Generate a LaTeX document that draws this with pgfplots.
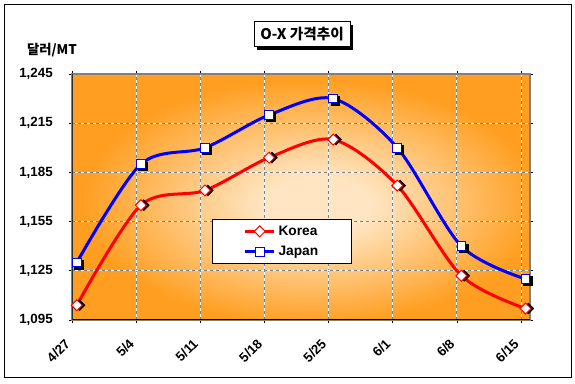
\documentclass[border=0pt]{standalone}
\usepackage{fontspec}
\setmainfont{Liberation Sans}
\newfontfamily\kr{Noto Sans CJK KR}
\usepackage{pgfplots}
\pgfplotsset{compat=1.18}
\definecolor{peach}{RGB}{255,229,194}
\definecolor{xlorange}{RGB}{255,158,32}
\definecolor{gridgray}{RGB}{128,128,128}
\pgfdeclareradialshading{excelcenter}{\pgfpoint{2bp}{-2bp}}{color(0bp)=(peach); color(6bp)=(peach); color(25bp)=(xlorange); color(50bp)=(xlorange)}
\begin{document}
\begin{tikzpicture}[x=0.75pt,y=0.75pt]
% outer frame
\draw[black, line width=1.1pt] (4.5,6.5) rectangle (571.5,379.5);
% title box with shadow
\fill[black] (257,334.3) rectangle (353,359.3);
\draw[black, line width=0.75pt, fill=white] (254,337.3) rectangle (350,362.3);
\node[font=\kr\bfseries\fontsize{11}{13}\selectfont, inner sep=0pt] at (302,349.8) {O-X 가격추이};
% unit label
\node[font=\kr\bfseries\fontsize{10}{12}\selectfont, inner sep=0pt] at (52,334) {달러/MT};
\begin{axis}[
  at={(54.225pt,48pt)}, anchor=south west,
  scale only axis,
  width=343.3pt, height=184.5pt,
  xmin=0, xmax=7.14,
  ymin=1095, ymax=1245,
  xtick={0,1,2,3,4,5,6,7},
  xticklabels={4/27,5/4,5/11,5/18,5/25,6/1,6/8,6/15},
  ytick={1095,1125,1155,1185,1215,1245},
  yticklabels={{1,095},{1,125},{1,155},{1,185},{1,215},{1,245}},
  /pgf/number format/assume math mode=true,
  tick label style={font=\bfseries\fontsize{10}{12}\selectfont},
  yticklabel style={anchor=east, inner sep=0pt, xshift=-12pt},
  xticklabel style={inner sep=0pt, xshift=-3.5pt, yshift=-13.5pt, rotate=45, anchor=east},
  tick align=outside,
  major tick length=2.5pt,
  tick style={black, line width=0.6pt},
  grid=major,
  major grid style={white, line width=0.75pt, postaction={draw=gridgray, line width=0.75pt, dash pattern=on 2.25pt off 2.25pt}},
  axis line style={draw=gridgray, line width=1.5pt},
  axis background/.style={shading=excelcenter},
  legend style={at={(0.306,0.41)}, anchor=north west, draw=black, line width=0.75pt, fill=white,
    font=\bfseries\fontsize{10.3}{12}\selectfont, inner xsep=23pt, inner ysep=2.5pt, row sep=2.75pt,
    legend cell align=left},
  legend image code/.code={\draw[mark repeat=2,mark phase=2] plot coordinates {(0pt,0pt)(11pt,0pt)(22pt,0pt)};},
]
% lines
\addplot[red, line width=2.25pt, smooth, forget plot] coordinates {
 (0.07,1104) (1.07,1165) (2.07,1174) (3.07,1194) (4.07,1205) (5.07,1177) (6.07,1122) (7.07,1102)};
\addplot[blue, line width=2.25pt, smooth, forget plot] coordinates {
 (0.07,1130) (1.07,1190) (2.07,1200) (3.07,1220) (4.07,1230) (5.07,1200) (6.07,1140) (7.07,1120)};
% shadows
\addplot[only marks, mark=square*, mark size=2.9pt, forget plot, mark options={rotate=45, fill=black, draw=black, xshift=1.5pt, yshift=-1.5pt}] coordinates {
 (0.07,1104) (1.07,1165) (2.07,1174) (3.07,1194) (4.07,1205) (5.07,1177) (6.07,1122) (7.07,1102)};
\addplot[only marks, mark=square*, mark size=3.3pt, forget plot, mark options={fill=black, draw=black, xshift=1.5pt, yshift=-1.5pt}] coordinates {
 (0.07,1130) (1.07,1190) (2.07,1200) (3.07,1220) (4.07,1230) (5.07,1200) (6.07,1140) (7.07,1120)};
% markers
\addplot[only marks, mark=square*, mark size=2.9pt, forget plot, mark options={rotate=45, fill=white, draw=red, line width=0.75pt}] coordinates {
 (0.07,1104) (1.07,1165) (2.07,1174) (3.07,1194) (4.07,1205) (5.07,1177) (6.07,1122) (7.07,1102)};
\addplot[only marks, mark=square*, mark size=3.3pt, forget plot, mark options={fill=white, draw=blue, line width=0.75pt}] coordinates {
 (0.07,1130) (1.07,1190) (2.07,1200) (3.07,1220) (4.07,1230) (5.07,1200) (6.07,1140) (7.07,1120)};
% left and bottom axis lines in black
\draw[black, line width=0.8pt] (rel axis cs:0,1) -- (rel axis cs:0,0) -- (rel axis cs:1,0);
\addlegendimage{red, line width=2.25pt, mark=square*, mark size=2.9pt, mark options={rotate=45, fill=white, draw=red, line width=0.75pt}}
\addlegendentry{Korea}
\addlegendimage{blue, line width=2.25pt, mark=square*, mark size=3.3pt, mark options={fill=white, draw=blue, line width=0.75pt}}
\addlegendentry{Japan}
\end{axis}
\pgfresetboundingbox
\path (0,0) rectangle (575,384);
\end{tikzpicture}
\end{document}
